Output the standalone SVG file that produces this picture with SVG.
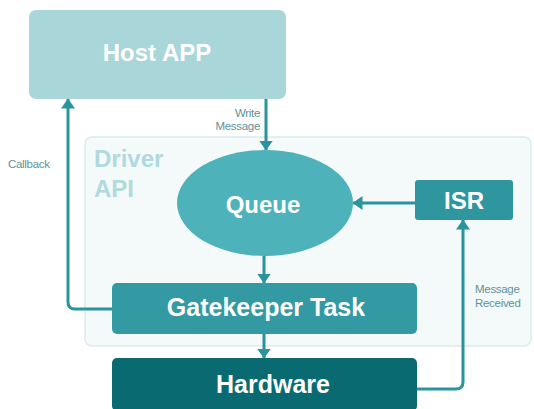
<svg xmlns="http://www.w3.org/2000/svg" width="534" height="409" viewBox="0 0 534 409">
  <style>
    .node-label { font-family: "Liberation Sans", Arial, sans-serif; font-weight: bold; font-size: 24px; fill: #ffffff; text-anchor: middle; }
    .node-label.wide { font-size: 25px; }
    .edge { fill: none; stroke: #2a949d; stroke-width: 3; stroke-linejoin: round; }
    .edge-label { font-family: "Liberation Sans", Arial, sans-serif; font-size: 11.5px; letter-spacing: -0.3px; fill: #5f9297; }
    .region-label { font-family: "Liberation Sans", Arial, sans-serif; font-weight: bold; font-size: 24px; fill: #b0dade; }
  </style>
  <defs>
    <marker id="arrow" viewBox="0 0 10 14" refX="9.5" refY="7" markerWidth="10" markerHeight="14" markerUnits="userSpaceOnUse" orient="auto">
      <path d="M0,0 L10,7 L0,14 Z" fill="#2a949d"/>
    </marker>
  </defs>

  <rect width="534" height="409" fill="#ffffff"/>

  <!-- Driver API boundary -->
  <g id="driver-api">
    <rect x="85" y="137" width="446" height="209" rx="7" fill="#f4f9fa" stroke="#d9ecee" stroke-width="1.5"/>
    <text class="region-label" x="94" y="167">Driver</text>
    <text class="region-label" x="94" y="197">API</text>
  </g>

  <!-- Connectors -->
  <g id="connectors">
    <path class="edge" d="M266,99 V150" marker-end="url(#arrow)"/>
    <path class="edge" d="M415,203 H353" marker-end="url(#arrow)"/>
    <path class="edge" d="M264,256 V283" marker-end="url(#arrow)"/>
    <path class="edge" d="M264,334 V358" marker-end="url(#arrow)"/>
    <path class="edge" d="M112,309 H75 Q68,309 68,302 V99" marker-end="url(#arrow)"/>
    <path class="edge" d="M417,389 H456 Q463,389 463,382 V220" marker-end="url(#arrow)"/>
    <text class="edge-label" x="260" y="117" text-anchor="end">Write</text>
    <text class="edge-label" x="260" y="130" text-anchor="end">Message</text>
    <text class="edge-label" x="8" y="168">Callback</text>
    <text class="edge-label" x="475" y="293">Message</text>
    <text class="edge-label" x="475" y="307">Received</text>
  </g>

  <g id="host-app">
    <rect x="29" y="10" width="257" height="89" rx="7" fill="#a9d6d9"/>
    <text class="node-label" x="157" y="61">Host APP</text>
  </g>

  <g id="queue">
    <ellipse cx="265" cy="203" rx="88" ry="53" fill="#4eb2ba"/>
    <text class="node-label" x="263" y="213">Queue</text>
  </g>

  <g id="isr">
    <rect x="415" y="180" width="98" height="40" rx="3" fill="#2f969f"/>
    <text class="node-label" x="464" y="209">ISR</text>
  </g>

  <g id="gatekeeper-task">
    <rect x="112" y="283" width="305" height="51" rx="5" fill="#3399a2"/>
    <text class="node-label wide" x="266" y="316">Gatekeeper Task</text>
  </g>

  <g id="hardware">
    <rect x="112" y="358" width="305" height="53" rx="5" fill="#096a72"/>
    <text class="node-label wide" x="273" y="393">Hardware</text>
  </g>
</svg>
